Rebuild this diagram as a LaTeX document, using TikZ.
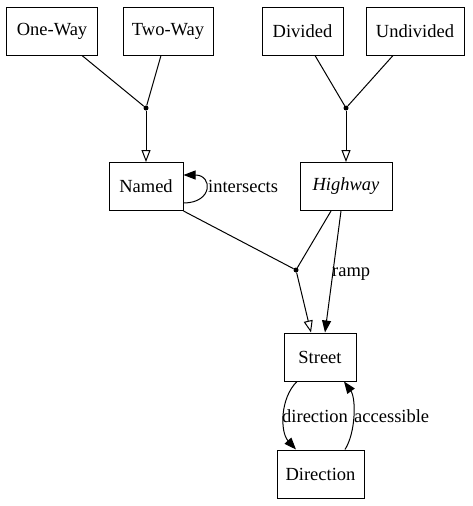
\documentclass[tikz,border=0pt]{standalone}
\usepackage{fontspec}
\setmainfont{Liberation Serif}
\usetikzlibrary{arrows.meta}
\begin{document}
\begin{tikzpicture}[x=1pt,y=-1pt,
  box/.style={draw,line width=1pt,rectangle,minimum height=48pt,inner xsep=8pt,font=\fontsize{18.5}{20}\selectfont},
  lbl/.style={font=\fontsize{18.5}{20}\selectfont,inner sep=1pt},
  dotnode/.style={circle,fill,inner sep=0pt,minimum size=5pt},
  edge/.style={line width=1pt},
  fa/.style={edge,-{Triangle[length=12pt,width=9pt]}},
  oa/.style={edge,-{Triangle[open,length=12pt,width=9pt,fill=white]}}]
\useasboundingbox (0,0) rectangle (472,506);
\node[box,minimum width=91pt] (oneway) at (52,31) {One-Way};
\node[box,minimum width=90pt] (twoway) at (168,31) {Two-Way};
\node[box,minimum width=81pt] (divided) at (302.5,31) {Divided};
\node[box,minimum width=98pt] (undivided) at (415,31) {Undivided};
\node[dotnode] (j1) at (146,108) {};
\node[dotnode] (j2) at (346,108) {};
\node[box,minimum width=74pt] (named) at (146,186.5) {Named};
\node[box,minimum width=92pt] (highway) at (346,186.5) {\itshape Highway};
\node[dotnode] (j3) at (296,270) {};
\node[box,minimum width=72pt] (street) at (320,357) {Street};
\node[box,minimum width=87pt] (direction) at (320.5,474) {Direction};
\draw[edge] (oneway.south -| 82,0) -- (j1);
\draw[edge] (twoway.south -| 161,0) -- (j1);
\draw[oa] (j1) -- (named.north);
\draw[edge] (divided.south -| 315,0) -- (j2);
\draw[edge] (undivided.south -| 393,0) -- (j2);
\draw[oa] (j2) -- (highway.north);
\draw[fa] (named.south east |- 0,203) .. controls (213,203) and (213,175) .. (named.north east |- 0,175);
\node[lbl,anchor=west] (intersects) at (207,186) {intersects};
\draw[edge] (named.south east) -- (j3);
\draw[edge] (highway.south -| 331,0) -- (j3);
\draw[oa] (j3) -- (street.north -| 311,0);
\draw[fa] (highway.south -| 341,0) -- (street.north -| 325,0);
\node[lbl,anchor=west] (ramp) at (331,274) {ramp};
\draw[fa] (street.south -| 297,0) .. controls (280,398) and (280,432) .. (direction.north -| 296,0);
\node[lbl,anchor=west] (dirlbl) at (281,416) {direction};
\draw[fa] (direction.north -| 345,0) .. controls (356,432) and (356,398) .. (street.south -| 344,0);
\node[lbl,anchor=west] (acclbl) at (353,416) {accessible};
\end{tikzpicture}
\end{document}
